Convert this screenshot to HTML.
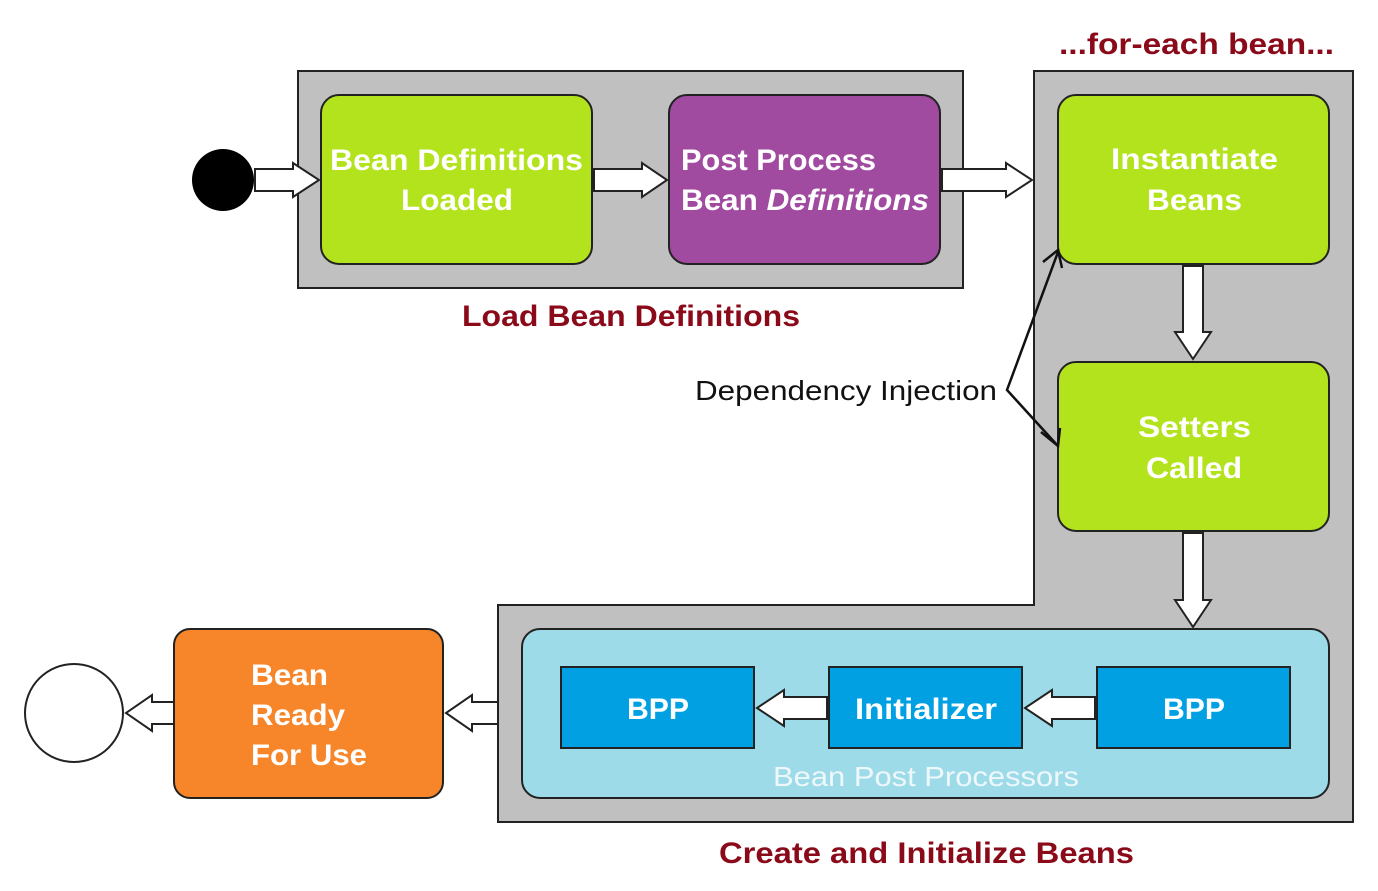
<!DOCTYPE html>
<html><head><meta charset="utf-8"><style>body{margin:0;background:#fff}svg{display:block}</style></head>
<body>
<svg width="1378" height="891" viewBox="0 0 1378 891" xmlns="http://www.w3.org/2000/svg" font-family="Liberation Sans, sans-serif">
<rect x="298" y="71" width="665" height="217" fill="#c0c0c0" stroke="#222" stroke-width="2"/>
<polygon points="1034,71 1353,71 1353,822 498,822 498,605 1034,605" fill="#c0c0c0" stroke="#222" stroke-width="2"/>
<rect x="321" y="95" width="271" height="169" rx="18" fill="#b3e31c" stroke="#222" stroke-width="2"/>
<rect x="669" y="95" width="271" height="169" rx="18" fill="#a04aa0" stroke="#222" stroke-width="2"/>
<rect x="1058" y="95" width="271" height="169" rx="18" fill="#b3e31c" stroke="#222" stroke-width="2"/>
<rect x="1058" y="362" width="271" height="169" rx="18" fill="#b3e31c" stroke="#222" stroke-width="2"/>
<rect x="522" y="629" width="807" height="169" rx="18" fill="#9ddbe9" stroke="#222" stroke-width="2"/>
<rect x="561" y="667" width="193" height="81" fill="#00a0e3" stroke="#222" stroke-width="2"/>
<rect x="829" y="667" width="193" height="81" fill="#00a0e3" stroke="#222" stroke-width="2"/>
<rect x="1097" y="667" width="193" height="81" fill="#00a0e3" stroke="#222" stroke-width="2"/>
<rect x="174" y="629" width="269" height="169" rx="16" fill="#f7862a" stroke="#222" stroke-width="2"/>
<circle cx="223" cy="180" r="31" fill="#000"/>
<circle cx="74" cy="713" r="49" fill="#fff" stroke="#222" stroke-width="2"/>
<g fill="#fff" stroke="#222" stroke-width="2">
<polygon points="255,169 293,169 293,163 319,180 293,197 293,191 255,191"/>
<polygon points="594,169 642,169 642,163 667,180 642,197 642,191 594,191"/>
<polygon points="942,169 1006,169 1006,163 1032,180 1006,197 1006,191 942,191"/>
<polygon points="1183,266 1203,266 1203,332 1211,332 1193,359 1175,332 1183,332"/>
<polygon points="1183,533 1203,533 1203,600 1211,600 1193,627 1175,600 1183,600"/>
<polygon points="827,697 784,697 784,690 757,708 784,726 784,719 827,719"/>
<polygon points="1095,697 1052,697 1052,690 1025,708 1052,726 1052,719 1095,719"/>
<polygon points="498,702 472,702 472,695 446,713 472,731 472,724 498,724"/>
<polygon points="174,702 152,702 152,695 126,713 152,731 152,724 174,724"/>
</g>
<g fill="none" stroke="#111" stroke-width="2.5">
<polyline points="1058,252 1007,390 1058,446"/>
<polyline points="1043,262 1058,250 1062,268"/>
<polyline points="1041,432 1058,446 1060,428"/>
</g>
<g fill="#fff" font-weight="bold" font-size="30" lengthAdjust="spacingAndGlyphs">
<text x="330" y="170" textLength="253" lengthAdjust="spacingAndGlyphs">Bean Definitions</text>
<text x="401" y="210" textLength="112" lengthAdjust="spacingAndGlyphs">Loaded</text>
<text x="681" y="170" textLength="195" lengthAdjust="spacingAndGlyphs">Post Process</text>
<text x="681" y="210" textLength="248" lengthAdjust="spacingAndGlyphs">Bean <tspan font-style="italic">Definitions</tspan></text>
<text x="1111" y="169" textLength="167" lengthAdjust="spacingAndGlyphs">Instantiate</text>
<text x="1147" y="210" textLength="95" lengthAdjust="spacingAndGlyphs">Beans</text>
<text x="1138" y="437" textLength="113" lengthAdjust="spacingAndGlyphs">Setters</text>
<text x="1146" y="478" textLength="96" lengthAdjust="spacingAndGlyphs">Called</text>
<text x="627" y="719" textLength="62" lengthAdjust="spacingAndGlyphs">BPP</text>
<text x="855" y="719" textLength="142" lengthAdjust="spacingAndGlyphs">Initializer</text>
<text x="1163" y="719" textLength="62" lengthAdjust="spacingAndGlyphs">BPP</text>
<text x="251" y="685" textLength="77" lengthAdjust="spacingAndGlyphs">Bean</text>
<text x="251" y="725" textLength="94" lengthAdjust="spacingAndGlyphs">Ready</text>
<text x="251" y="765" textLength="116" lengthAdjust="spacingAndGlyphs">For Use</text>
</g>
<text x="773" y="786" fill="#eef8fb" font-size="28" textLength="306" lengthAdjust="spacingAndGlyphs">Bean Post Processors</text>
<text x="695" y="400" fill="#111" font-size="28" textLength="302" lengthAdjust="spacingAndGlyphs">Dependency Injection</text>
<g fill="#8b0a1a" font-weight="bold" font-size="30">
<text x="1059" y="54" textLength="275" lengthAdjust="spacingAndGlyphs">...for-each bean...</text>
<text x="462" y="326" textLength="338" lengthAdjust="spacingAndGlyphs">Load Bean Definitions</text>
<text x="719" y="863" textLength="415" lengthAdjust="spacingAndGlyphs">Create and Initialize Beans</text>
</g>
</svg>
</body></html>
